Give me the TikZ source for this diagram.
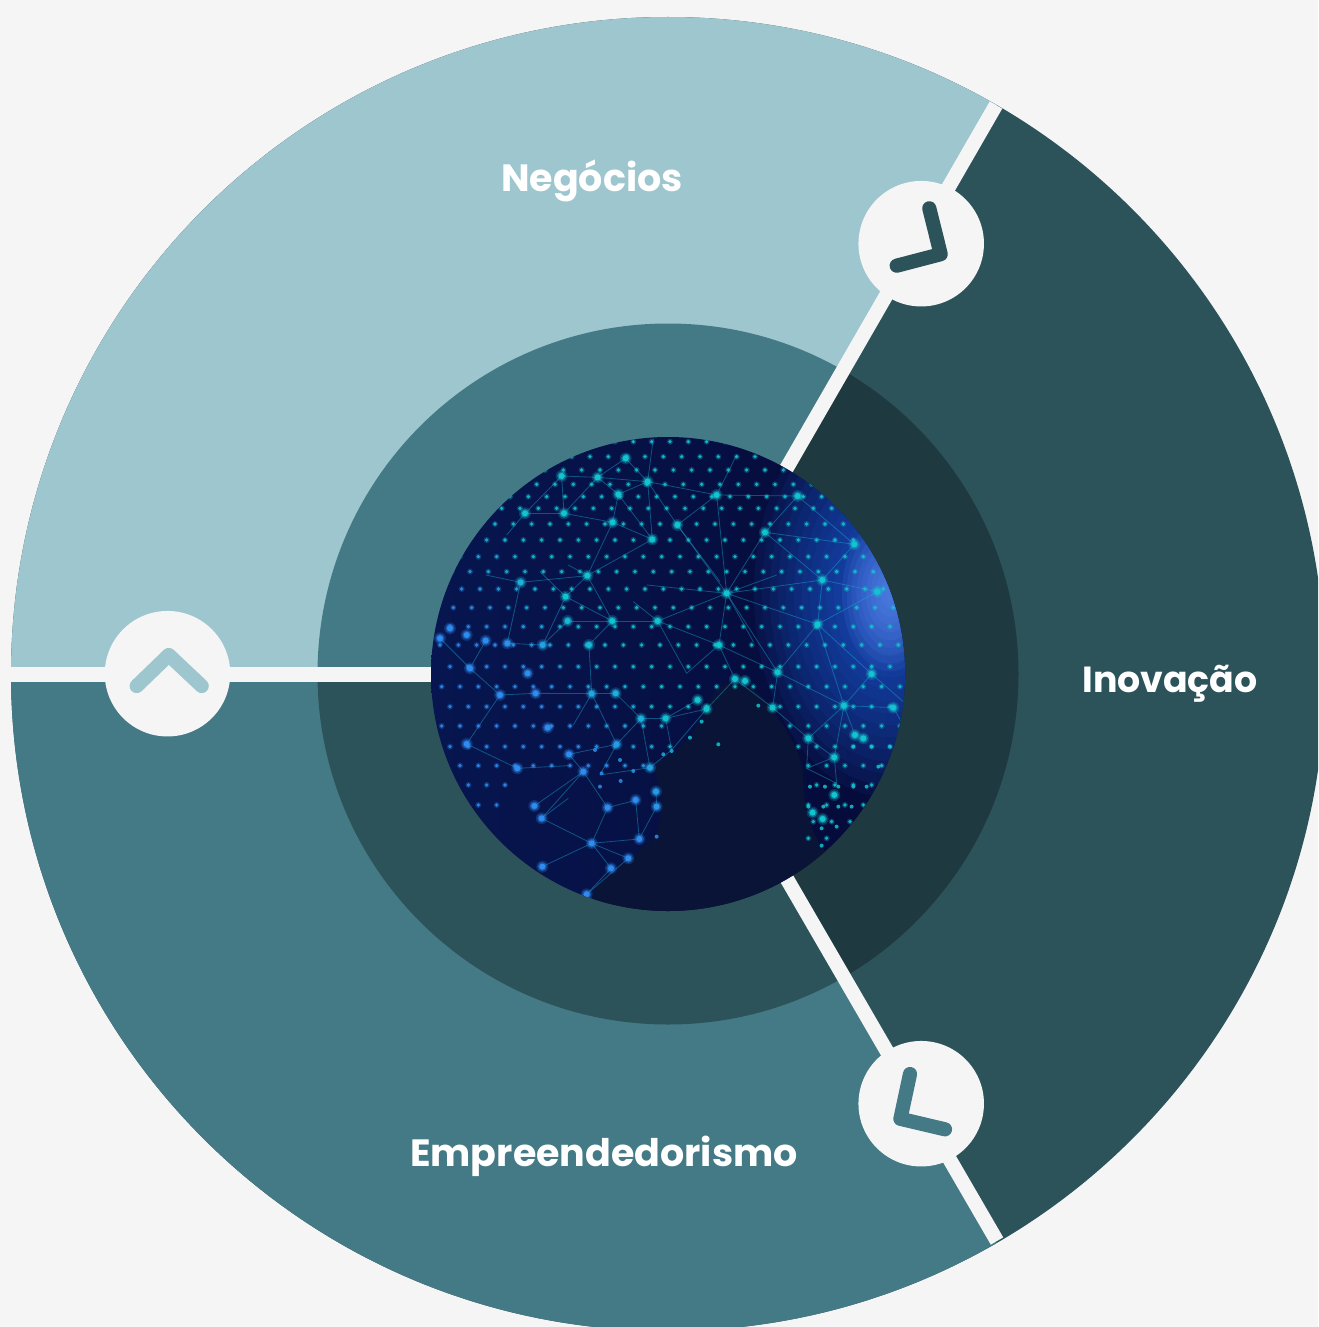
\documentclass[tikz,border=0pt]{standalone}
\usepackage{fontspec}
\setmainfont{Poppins}
\definecolor{bgc}{HTML}{F5F5F5}
\definecolor{lightc}{HTML}{9EC6CE}
\definecolor{midc}{HTML}{447A85}
\definecolor{darkc}{HTML}{2D535A}
\definecolor{deepc}{HTML}{1E3A40}
\definecolor{navyl}{HTML}{071650}
\definecolor{navyr}{HTML}{050A38}
\definecolor{landc}{HTML}{0A1436}
\definecolor{dotblue}{HTML}{2E8CF0}
\definecolor{dotteal}{HTML}{12C4D0}
\definecolor{glowc}{HTML}{2468F0}
\tikzset{
  sep/.style={bgc,line width=14.4pt},
  badge/.style={circle,fill=bgc,minimum size=125.5pt,inner sep=0pt},
  hand/.style={line width=14.2pt,line cap=round,line join=round},
  lab/.style={white,font=\fontsize{38}{38}\selectfont\bfseries,anchor=base,inner sep=0pt},
  net/.style={dotteal!65!dotblue,line width=.8pt,opacity=.42}
}
\begin{document}
\begin{tikzpicture}[x=1pt,y=-1pt]
\useasboundingbox (0,0) rectangle (1318,1327);
\fill[bgc] (0,0) rectangle (1318,1327);
\clip (0,0) rectangle (1318,1327);
\coordinate (c) at (668,674);
\coordinate (endTop) at (996,105);
\coordinate (endBot) at (997,1241);
\coordinate (endLeft) at (8,674.5);
\coordinate (hubL) at (668,674.5);
% right sector
\fill[darkc] (c) circle (657pt);
\fill[deepc] (c) circle (350.5pt);
% upper left sector
\begin{scope}
\clip (c) -- (1168,-192) -- (-1000,-1000) -- (-1000,674) -- cycle;
\fill[lightc] (c) circle (657pt);
\fill[midc] (c) circle (350.5pt);
\end{scope}
% lower left sector
\begin{scope}
\clip (c) -- (-1000,674) -- (-1000,2400) -- (1168,1540) -- cycle;
\fill[midc] (c) circle (657pt);
\fill[darkc] (c) circle (350.5pt);
\end{scope}
% separators
\draw[sep] (c) -- (endTop);
\draw[sep] (c) -- (endBot);
\draw[sep] (hubL) -- (endLeft);
% globe
\begin{scope}
\clip (c) circle (237pt);
\shade[left color=navyl,right color=navyr] (431,437) rectangle (905,911);
\begin{scope}[shift={(420,425)},x=.3333pt,y=-.3333pt]
  % glow
  \foreach \r in {170,160,...,10}{
    \fill[glowc,opacity=.07] (1410,505) ellipse ({\r*.8 pt} and {\r*1.2 pt});
  }
  \foreach \r in {60,54,...,6}{
    \fill[glowc!70!white,opacity=.10] (1410,505) ellipse ({\r*.8 pt} and {\r*1.3 pt});
  }
  % dark land mass
  \fill[landc] (530,1560) -- (520,1395) .. controls (570,1340) and (640,1300) .. (700,1240)
     .. controls (725,1200) and (730,1130) .. (722,1090) .. controls (705,1050) and (700,1040) .. (712,1010)
     .. controls (760,985) and (810,950) .. (830,900) .. controls (850,880) and (855,860) .. (868,835)
     .. controls (880,790) and (920,768) .. (950,772) .. controls (1000,785) and (1040,820) .. (1075,880)
     .. controls (1110,930) and (1150,1000) .. (1150,1060) .. controls (1150,1130) and (1160,1180) .. (1200,1260)
     .. controls (1220,1290) and (1250,1300) .. (1300,1300) -- (1300,1560) -- cycle;
  % network lines
  \foreach \xa/\ya/\xb/\yb in {
  920/505/1207/465,920/505/1193/598,920/505/1073/742,920/505/897/660,920/505/713/588,920/505/772/300,
  920/505/1035/322,920/505/890/210,920/505/1000/650,920/505/1070/450,920/505/680/480,
  1207/465/1372/500,1207/465/1303/358,1207/465/1035/322,1207/465/1193/598,1372/500/1193/598,
  1193/598/1073/742,1193/598/1355/747,1193/598/1272/842,1073/742/897/660,1073/742/1058/848,1073/742/1272/842,
  1272/842/1355/747,1272/842/1420/848,1272/842/1165/940,1272/842/1243/997,1165/940/1058/848,1165/940/1243/997,
  1243/997/1250/1075,1243/997/1160/1030,1035/322/1133/213,1035/322/1303/358,1133/213/1303/358,
  890/210/683/170,890/210/1133/213,890/210/772/300,683/170/617/100,683/170/533/157,683/170/595/208,
  683/170/772/300,683/170/697/343,595/208/578/292,595/208/533/157,595/208/697/343,
  432/265/425/153,432/265/315/265,432/265/533/157,432/265/578/292,315/265/425/153,315/265/260/330,
  578/292/502/452,578/292/697/343,502/452/697/343,502/452/437/515,502/452/302/472,502/452/577/588,
  577/588/713/588,577/588/443/588,577/588/507/660,577/588/437/515,
  713/588/897/660,713/588/800/745,713/588/640/530,507/660/515/806,515/806/587/805,515/806/347/805,
  515/806/590/958,515/806/460/900,587/805/663/881,663/881/737/880,663/881/590/958,663/881/690/1028,
  737/880/860/852,737/880/755/975,737/880/833/825,755/975/860/852,590/958/447/988,590/958/540/1050,
  240/810/150/730,240/810/347/805,240/810/140/957,150/730/60/640,150/730/197/647,
  292/1030/447/1022,292/1030/140/957,897/660/800/745,897/660/945/762,945/762/1058/848,860/852/945/762,
  302/472/197/450,302/472/262/655,437/515/368/660,368/660/262/655,443/588/368/660,425/153/533/157,
  1355/747/1450/830,1272/842/1305/930,1420/848/1450/900,
  445/420/502/452,360/440/437/515,617/100/533/157,890/210/950/90,683/170/700/40,772/300/900/470,
  490/1040/365/1180,490/1040/343/1143,563/1148/515/1255,563/1148/490/1040,563/1148/650/1125,
  515/1255/365/1180,515/1255/367/1325,515/1255/658/1242,515/1255/625/1300,658/1242/710/1145,658/1242/647/1125,
  625/1300/500/1408,573/1330/500/1408,710/1145/708/1100,365/1180/445/1120,1160/1030/1250/1075,1165/940/1160/1030,
  690/1028/540/1050,447/988/490/1040,515/1255/573/1330,690/1028/755/975
  }{
    \draw[net] (\xa,\ya) -- (\xb,\yb);
  }
  % grid of small dots
  \foreach \yy/\off in {50/30,95/10,135/40,178/15,215/45,250/20,297/0,345/30,395/5,440/35,492/10,548/40,605/30,660/0,725/30,785/5,845/30,903/5,965/30,1022/5,1080/30,1140/5,1190/20,1240/5}{
    \foreach \i in {0,...,25}{
      \pgfmathsetmacro\xx{\off+60+55*\i}
      \pgfmathtruncatemacro\p{max(0,min(100,(\xx-260)/3.5+(700-\yy)/4))}
      % keep the land masses free of dots
      \pgfmathtruncatemacro\hide{or(and(\yy>1170,\xx<1150),or(and(and(\yy>1035,\xx>270),\xx<700),or(and(\yy>1000,and(\xx>700,\xx<1160)),or(and(\yy>800,and(\xx>860,\xx<1080)),and(\yy>900,and(\xx>760,\xx<1110))))))}
      \ifnum\hide=0
        \fill[dotteal!\p!dotblue,opacity=.28] (\xx,\yy) circle (3pt);
        \fill[dotteal!\p!dotblue,opacity=.9] (\xx,\yy) circle (1.8pt);
      \fi
    }
  }
  % hubs
  \foreach \xx/\yy in {315/265,432/265,425/153,533/157,617/100,683/170,595/208,890/210,1133/213,578/292,772/300,1035/322,697/343,1303/358,502/452,302/472,1207/465,1372/500,920/505,437/515,443/588,577/588,713/588,1193/598,90/610,140/630,60/640,197/647,262/655,368/660,507/660,897/660,150/730,323/745,1073/742,1355/747,240/810,347/805,515/806,587/805,1058/848,1272/842,1420/848,383/908,663/881,737/880,1165/940,140/957,590/958,447/988,1243/997,292/1030,690/1028,490/1040,708/1100,647/1125,710/1145,563/1148,343/1143,365/1180,515/1255,658/1242,625/1300,573/1330,367/1325,500/1408,1243/1110,1178/1163,1208/1182,1330/940,1305/930,860/852,833/825,945/762,975/768}{
    \pgfmathtruncatemacro\p{max(0,min(100,(\xx-260)/3.5+(700-\yy)/4))}
    \fill[dotteal!\p!dotblue,opacity=.22] (\xx,\yy) circle (6pt);
    \fill[dotteal!\p!dotblue,opacity=.45] (\xx,\yy) circle (4.5pt);
    \fill[dotteal!\p!dotblue] (\xx,\yy) circle (3pt);
  }
  % small dots near the lower clusters
  \foreach \xx/\yy in {1170/1085,1215/1085,1255/1085,1300/1085,1340/1085,1165/1145,1210/1145,1255/1145,1295/1145,1205/1210,1250/1205,1205/1262,1015/842,895/958,710/1235,545/1045,602/1068,640/1038,540/1085,525/975,600/1005,755/978,730/988,810/938,845/890,1375/1025,1300/965,1355/965,1410/965}{
    \pgfmathtruncatemacro\p{max(0,min(100,(\xx-260)/3.5+(700-\yy)/4))}
    \fill[dotteal!\p!dotblue,opacity=.85] (\xx,\yy) circle (2pt);
  }
\end{scope}
\end{scope}
% badges
\node[badge] (leftB) at (167.5,673.7) {};
\node[badge] (topB) at (921.2,243.7) {};
\node[badge] (botB) at (921.2,1103.7) {};
\draw[hand,lightc] (136.7,686) -- (168.8,655) -- (201.7,686);
\draw[hand,darkc] (929.3,208.3) -- (940.7,254.2) -- (896.7,265.7);
\draw[hand,midc] (910,1074) -- (900.4,1118.8) -- (945,1129.3);
% labels
\node[lab] (neg) at (592,191) {Negócios};
\node[lab,font=\fontsize{36.3}{36.3}\selectfont\bfseries] (ino) at (1170,692.5) {Inovação};
\node[lab] (emp) at (604,1166) {Empreendedorismo};
\end{tikzpicture}
\end{document}
